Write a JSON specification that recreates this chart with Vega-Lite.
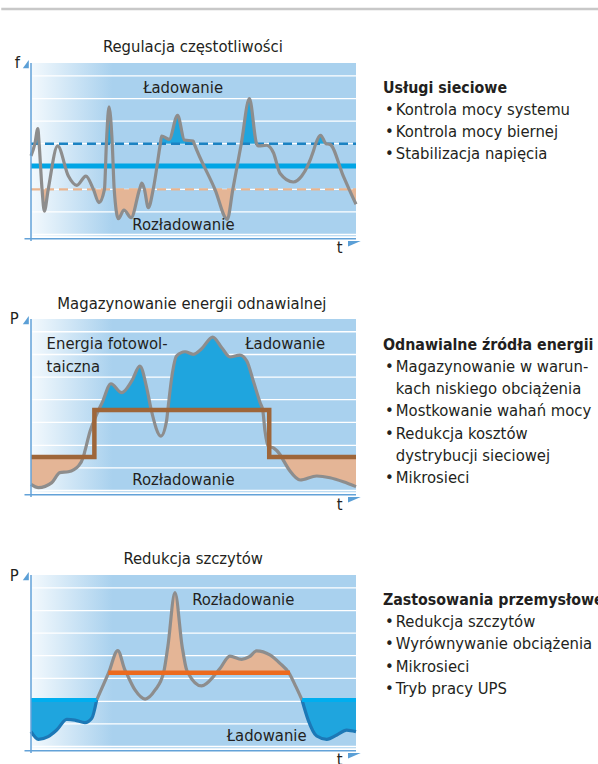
{
  "$schema": "https://vega.github.io/schema/vega-lite/v6.json",
  "background": "white",
  "padding": {"left": 0, "top": 7, "right": 0, "bottom": 0},
  "bounds": "flush",
  "columns": 2,
  "spacing": {"row": 81, "column": 28},
  "config": {
    "view": {"stroke": null},
    "axis": {"disable": true},
    "legend": {"disable": true},
    "text": {"font": "DejaVu Sans Condensed, Roboto, sans-serif", "fontSize": 16.5, "color": "#231f20"}
  },
  "datasets": {
    "grid": [{"g": 2}, {"g": 14.9}, {"g": 27.8}, {"g": 40.9}, {"g": 53.9}, {"g": 66.8}, {"g": 79.7}, {"g": 92.7}],
    "c1": [
      {"x": 0, "v": 46.9}, {"x": 1.2, "v": 53.9}, {"x": 2.1, "v": 62.5}, {"x": 2.5, "v": 53.9}, {"x": 3.4, "v": 27.8},
      {"x": 4.1, "v": 15.4}, {"x": 5.3, "v": 27.8}, {"x": 8.2, "v": 52.6}, {"x": 11.5, "v": 35.4}, {"x": 14.1, "v": 30.1},
      {"x": 16.9, "v": 35.4}, {"x": 19.2, "v": 27.8}, {"x": 20.9, "v": 20.2}, {"x": 22.6, "v": 27.8}, {"x": 23.2, "v": 53.9},
      {"x": 24.0, "v": 75.0}, {"x": 25.0, "v": 53.9}, {"x": 25.6, "v": 27.8}, {"x": 26.9, "v": 11.0}, {"x": 28.6, "v": 16.0},
      {"x": 30.8, "v": 11.6}, {"x": 33.4, "v": 27.8}, {"x": 34.1, "v": 31.3}, {"x": 34.9, "v": 27.8}, {"x": 36.1, "v": 17.3},
      {"x": 37.6, "v": 27.8}, {"x": 39.8, "v": 53.9}, {"x": 40.2, "v": 58.3}, {"x": 42.5, "v": 56.4}, {"x": 45.1, "v": 70.1},
      {"x": 47.2, "v": 56.0}, {"x": 49.9, "v": 55.4}, {"x": 50.2, "v": 53.9}, {"x": 56.6, "v": 27.8}, {"x": 60.4, "v": 10.7},
      {"x": 62.1, "v": 27.8}, {"x": 64.7, "v": 53.9}, {"x": 67.2, "v": 79.6}, {"x": 69.4, "v": 53.9}, {"x": 69.9, "v": 52.6},
      {"x": 72.5, "v": 53.0}, {"x": 74.6, "v": 48.7}, {"x": 76.6, "v": 37.0}, {"x": 80.7, "v": 32.0}, {"x": 83.3, "v": 35.4},
      {"x": 86.9, "v": 49.7}, {"x": 87.6, "v": 53.9}, {"x": 89.1, "v": 58.7}, {"x": 90.8, "v": 53.9}, {"x": 92.0, "v": 53.5},
      {"x": 96.1, "v": 35.4}, {"x": 97.9, "v": 27.8}, {"x": 100, "v": 19.3}
    ],
    "f1": [
      {"s": "a", "k": "c", "x": 1.2, "v": 53.9}, {"s": "a", "k": "c", "x": 2.1, "v": 62.5}, {"s": "a", "k": "c", "x": 2.5, "v": 53.9},
      {"s": "b", "k": "c", "x": 23.2, "v": 53.9}, {"s": "b", "k": "c", "x": 24.0, "v": 75.0}, {"s": "b", "k": "c", "x": 25.0, "v": 53.9},
      {"s": "c", "k": "c", "x": 39.8, "v": 53.9}, {"s": "c", "k": "c", "x": 40.2, "v": 58.3}, {"s": "c", "k": "c", "x": 42.5, "v": 56.4},
      {"s": "c", "k": "c", "x": 45.1, "v": 70.1}, {"s": "c", "k": "c", "x": 47.2, "v": 56.0}, {"s": "c", "k": "c", "x": 49.9, "v": 55.4},
      {"s": "c", "k": "c", "x": 50.2, "v": 53.9},
      {"s": "d", "k": "c", "x": 64.7, "v": 53.9}, {"s": "d", "k": "c", "x": 67.2, "v": 79.6}, {"s": "d", "k": "c", "x": 69.4, "v": 53.9},
      {"s": "e", "k": "c", "x": 87.6, "v": 53.9}, {"s": "e", "k": "c", "x": 89.1, "v": 58.7}, {"s": "e", "k": "c", "x": 90.8, "v": 53.9},
      {"s": "f", "k": "d", "x": 3.4, "v": 27.8}, {"s": "f", "k": "d", "x": 4.1, "v": 15.4}, {"s": "f", "k": "d", "x": 5.3, "v": 27.8},
      {"s": "g", "k": "d", "x": 19.2, "v": 27.8}, {"s": "g", "k": "d", "x": 20.9, "v": 20.2}, {"s": "g", "k": "d", "x": 22.6, "v": 27.8},
      {"s": "h", "k": "d", "x": 25.6, "v": 27.8}, {"s": "h", "k": "d", "x": 26.9, "v": 11.0}, {"s": "h", "k": "d", "x": 28.6, "v": 16.0},
      {"s": "h", "k": "d", "x": 30.8, "v": 11.6}, {"s": "h", "k": "d", "x": 33.4, "v": 27.8},
      {"s": "i", "k": "d", "x": 34.9, "v": 27.8}, {"s": "i", "k": "d", "x": 36.1, "v": 17.3}, {"s": "i", "k": "d", "x": 37.6, "v": 27.8},
      {"s": "j", "k": "d", "x": 56.6, "v": 27.8}, {"s": "j", "k": "d", "x": 60.4, "v": 10.7}, {"s": "j", "k": "d", "x": 62.1, "v": 27.8},
      {"s": "m", "k": "d", "x": 97.9, "v": 27.8}, {"s": "m", "k": "d", "x": 100, "v": 19.3}
    ],
    "c2": [
      {"x": 0, "v": 5.5}, {"x": 2.3, "v": 3.6}, {"x": 6.4, "v": 6.5}, {"x": 8.9, "v": 12.2}, {"x": 11.5, "v": 12.7},
      {"x": 14.6, "v": 16.0}, {"x": 16.1, "v": 21.1}, {"x": 16.6, "v": 24.6}, {"x": 18.2, "v": 36.0}, {"x": 20.2, "v": 45.5},
      {"x": 20.8, "v": 48.0}, {"x": 21.9, "v": 52.2}, {"x": 24.6, "v": 63.0}, {"x": 27.9, "v": 57.9}, {"x": 31.0, "v": 64.6},
      {"x": 33.5, "v": 73.1}, {"x": 35.6, "v": 60.7}, {"x": 37.0, "v": 48.0}, {"x": 40.0, "v": 33.1}, {"x": 41.7, "v": 41.7},
      {"x": 42.1, "v": 48.0}, {"x": 43.3, "v": 66.5}, {"x": 44.8, "v": 78.9}, {"x": 47.4, "v": 81.3}, {"x": 49.9, "v": 79.8},
      {"x": 52.5, "v": 83.0}, {"x": 55.9, "v": 89.7}, {"x": 58.7, "v": 83.6}, {"x": 61.2, "v": 78.3}, {"x": 64.3, "v": 79.4},
      {"x": 66.4, "v": 76.0}, {"x": 68.4, "v": 64.6}, {"x": 70.5, "v": 52.2}, {"x": 71.3, "v": 48.0}, {"x": 72.0, "v": 36.0},
      {"x": 73.0, "v": 27.4}, {"x": 74.8, "v": 26.1}, {"x": 76.6, "v": 22.7}, {"x": 77.1, "v": 21.1}, {"x": 79.7, "v": 13.1},
      {"x": 82.8, "v": 8.0}, {"x": 87.9, "v": 10.3}, {"x": 92.0, "v": 9.3}, {"x": 96.1, "v": 7.0}, {"x": 100, "v": 4.2}
    ],
    "f2": [
      {"s": "a", "k": "c", "x": 20.8, "v": 48.0}, {"s": "a", "k": "c", "x": 21.9, "v": 52.2}, {"s": "a", "k": "c", "x": 24.6, "v": 63.0},
      {"s": "a", "k": "c", "x": 27.9, "v": 57.9}, {"s": "a", "k": "c", "x": 31.0, "v": 64.6}, {"s": "a", "k": "c", "x": 33.5, "v": 73.1},
      {"s": "a", "k": "c", "x": 35.6, "v": 60.7}, {"s": "a", "k": "c", "x": 37.0, "v": 48.0},
      {"s": "b", "k": "c", "x": 42.1, "v": 48.0}, {"s": "b", "k": "c", "x": 43.3, "v": 66.5}, {"s": "b", "k": "c", "x": 44.8, "v": 78.9},
      {"s": "b", "k": "c", "x": 47.4, "v": 81.3}, {"s": "b", "k": "c", "x": 49.9, "v": 79.8}, {"s": "b", "k": "c", "x": 52.5, "v": 83.0},
      {"s": "b", "k": "c", "x": 55.9, "v": 89.7}, {"s": "b", "k": "c", "x": 58.7, "v": 83.6}, {"s": "b", "k": "c", "x": 61.2, "v": 78.3},
      {"s": "b", "k": "c", "x": 64.3, "v": 79.4}, {"s": "b", "k": "c", "x": 66.4, "v": 76.0}, {"s": "b", "k": "c", "x": 68.4, "v": 64.6},
      {"s": "b", "k": "c", "x": 70.5, "v": 52.2}, {"s": "b", "k": "c", "x": 71.3, "v": 48.0},
      {"s": "c", "k": "d", "x": 0, "v": 5.5}, {"s": "c", "k": "d", "x": 2.3, "v": 3.6}, {"s": "c", "k": "d", "x": 6.4, "v": 6.5},
      {"s": "c", "k": "d", "x": 8.9, "v": 12.2}, {"s": "c", "k": "d", "x": 11.5, "v": 12.7}, {"s": "c", "k": "d", "x": 14.6, "v": 16.0},
      {"s": "c", "k": "d", "x": 16.1, "v": 21.1},
      {"s": "d", "k": "d", "x": 77.1, "v": 21.1}, {"s": "d", "k": "d", "x": 79.7, "v": 13.1}, {"s": "d", "k": "d", "x": 82.8, "v": 8.0},
      {"s": "d", "k": "d", "x": 87.9, "v": 10.3}, {"s": "d", "k": "d", "x": 92.0, "v": 9.3}, {"s": "d", "k": "d", "x": 96.1, "v": 7.0},
      {"s": "d", "k": "d", "x": 100, "v": 4.2}
    ],
    "step2": [{"x": 0, "v": 21.1}, {"x": 19.5, "v": 48.0}, {"x": 73.3, "v": 21.1}, {"x": 100, "v": 21.1}],
    "c3": [
      {"s": "L", "x": 0, "v": 10.5}, {"s": "L", "x": 2.3, "v": 6.1}, {"s": "L", "x": 5.3, "v": 7.6}, {"s": "L", "x": 7.9, "v": 11.4},
      {"s": "L", "x": 11.0, "v": 17.5}, {"s": "L", "x": 13.5, "v": 17.1}, {"s": "L", "x": 16.6, "v": 15.6}, {"s": "L", "x": 18.7, "v": 18.1},
      {"s": "L", "x": 20.2, "v": 28.6},
      {"s": "M", "x": 20.2, "v": 28.6}, {"s": "M", "x": 23.9, "v": 44.2}, {"s": "M", "x": 26.7, "v": 56.8}, {"s": "M", "x": 28.9, "v": 45.7},
      {"s": "M", "x": 29.3, "v": 44.2}, {"s": "M", "x": 32.0, "v": 34.3}, {"s": "M", "x": 35.1, "v": 29.1}, {"s": "M", "x": 38.2, "v": 34.3},
      {"s": "M", "x": 40.8, "v": 44.2}, {"s": "M", "x": 42.1, "v": 59.0}, {"s": "M", "x": 44.3, "v": 89.9}, {"s": "M", "x": 46.5, "v": 59.2},
      {"s": "M", "x": 47.9, "v": 45.7}, {"s": "M", "x": 48.3, "v": 44.2}, {"s": "M", "x": 52.5, "v": 36.6}, {"s": "M", "x": 56.1, "v": 41.9},
      {"s": "M", "x": 57.1, "v": 44.2}, {"s": "M", "x": 58.2, "v": 46.7}, {"s": "M", "x": 61.2, "v": 53.7}, {"s": "M", "x": 64.8, "v": 51.8},
      {"s": "M", "x": 67.2, "v": 53.3}, {"s": "M", "x": 69.4, "v": 56.6}, {"s": "M", "x": 73.5, "v": 54.3}, {"s": "M", "x": 76.6, "v": 49.5},
      {"s": "M", "x": 79.3, "v": 44.2}, {"s": "M", "x": 81.5, "v": 36.2}, {"s": "M", "x": 83.4, "v": 28.6},
      {"s": "R", "x": 83.4, "v": 28.6}, {"s": "R", "x": 85.3, "v": 17.1}, {"s": "R", "x": 87.9, "v": 8.0}, {"s": "R", "x": 91.0, "v": 6.1},
      {"s": "R", "x": 94.1, "v": 8.6}, {"s": "R", "x": 97.1, "v": 11.4}, {"s": "R", "x": 100, "v": 10.5}
    ],
    "f3": [
      {"s": "a", "x": 23.9, "v": 44.2}, {"s": "a", "x": 26.7, "v": 56.8}, {"s": "a", "x": 28.9, "v": 45.7}, {"s": "a", "x": 29.3, "v": 44.2},
      {"s": "b", "x": 40.8, "v": 44.2}, {"s": "b", "x": 42.1, "v": 59.0}, {"s": "b", "x": 44.3, "v": 89.9}, {"s": "b", "x": 46.5, "v": 59.2},
      {"s": "b", "x": 47.9, "v": 45.7}, {"s": "b", "x": 48.3, "v": 44.2},
      {"s": "c", "x": 57.1, "v": 44.2}, {"s": "c", "x": 58.2, "v": 46.7}, {"s": "c", "x": 61.2, "v": 53.7}, {"s": "c", "x": 64.8, "v": 51.8},
      {"s": "c", "x": 67.2, "v": 53.3}, {"s": "c", "x": 69.4, "v": 56.6}, {"s": "c", "x": 73.5, "v": 54.3}, {"s": "c", "x": 76.6, "v": 49.5},
      {"s": "c", "x": 79.3, "v": 44.2}
    ],
    "lv3": [{"x": 0, "x2": 20.2}, {"x": 83.4, "x2": 100}],
    "lab1": [
      {"x": 49.8, "y": 106.3, "t": "Regulacja częstotliwości"},
      {"x": 46.8, "y": 83.0, "t": "Ładowanie"},
      {"x": 46.9, "y": 4.4, "t": "Rozładowanie"},
      {"x": -4.2, "y": 97.3, "t": "f"},
      {"x": 95.0, "y": -8.6, "t": "t"}
    ],
    "lab2": [
      {"x": 49.5, "y": 105.9, "t": "Magazynowanie energii odnawialnej"},
      {"x": 78.2, "y": 82.7, "t": "Ładowanie"},
      {"x": 46.9, "y": 5.1, "t": "Rozładowanie"},
      {"x": -5.2, "y": 97.0, "t": "P"},
      {"x": 95.0, "y": -9.1, "t": "t"}
    ],
    "lab2l": [
      {"x": 4.8, "y": 82.7, "t": "Energia fotowol-"},
      {"x": 4.8, "y": 69.9, "t": "taiczna"}
    ],
    "lab3": [
      {"x": 49.9, "y": 106.1, "t": "Redukcja szczytów"},
      {"x": 65.3, "y": 82.9, "t": "Rozładowanie"},
      {"x": 72.5, "y": 5.3, "t": "Ładowanie"},
      {"x": -5.2, "y": 96.7, "t": "P"},
      {"x": 95.0, "y": -8.6, "t": "t"}
    ],
    "list1": [
      {"n": 0, "k": "h", "t": "Usługi sieciowe"},
      {"n": 1, "k": "b", "t": "Kontrola mocy systemu"},
      {"n": 2, "k": "b", "t": "Kontrola mocy biernej"},
      {"n": 3, "k": "b", "t": "Stabilizacja napięcia"}
    ],
    "list2": [
      {"n": 0, "k": "h", "t": "Odnawialne źródła energii"},
      {"n": 1, "k": "b", "t": "Magazynowanie w warun-"},
      {"n": 2, "k": "c", "t": "kach niskiego obciążenia"},
      {"n": 3, "k": "b", "t": "Mostkowanie wahań mocy"},
      {"n": 4, "k": "b", "t": "Redukcja kosztów"},
      {"n": 5, "k": "c", "t": "dystrybucji sieciowej"},
      {"n": 6, "k": "b", "t": "Mikrosieci"}
    ],
    "list3": [
      {"n": 0, "k": "h", "t": "Zastosowania przemysłowe"},
      {"n": 1, "k": "b", "t": "Redukcja szczytów"},
      {"n": 2, "k": "b", "t": "Wyrównywanie obciążenia"},
      {"n": 3, "k": "b", "t": "Mikrosieci"},
      {"n": 4, "k": "b", "t": "Tryb pracy UPS"}
    ]
  },
  "concat": [
    {
      "width": 325,
      "height": 175,
      "layer": [
        {"data": {"values": [{}]}, "mark": {"type": "rect", "fill": {"gradient": "linear", "x1": 0, "y1": 0, "x2": 1, "y2": 0, "stops": [{"offset": 0, "color": "#f3f9fd"}, {"offset": 0.25, "color": "#a9d1ee"}, {"offset": 1, "color": "#a9d1ee"}]}},
         "encoding": {"x": {"datum": 0, "type": "quantitative", "scale": {"domain": [0, 100], "nice": false}}, "x2": {"datum": 100}, "y": {"datum": 1, "type": "quantitative", "scale": {"domain": [0, 100], "nice": false}}, "y2": {"datum": 100}}},
        {"data": {"name": "grid"}, "mark": {"type": "rule", "color": "#ffffff", "strokeWidth": 1.3}, "encoding": {"y": {"field": "g", "type": "quantitative"}, "x": {"datum": 0.4}, "x2": {"datum": 100}}},
        {"data": {"name": "f1"}, "transform": [{"filter": "datum.k == 'c'"}], "mark": {"type": "area", "interpolate": "monotone", "color": "#1fa5de", "opacity": 1},
         "encoding": {"x": {"field": "x", "type": "quantitative"}, "y": {"field": "v", "type": "quantitative", "stack": null}, "y2": {"datum": 53.9}, "detail": {"field": "s"}}},
        {"data": {"name": "f1"}, "transform": [{"filter": "datum.k == 'd'"}], "mark": {"type": "area", "interpolate": "monotone", "color": "#e4b596", "opacity": 1},
         "encoding": {"x": {"field": "x", "type": "quantitative"}, "y": {"field": "v", "type": "quantitative", "stack": null}, "y2": {"datum": 27.8}, "detail": {"field": "s"}}},
        {"data": {"values": [{}]}, "mark": {"type": "rule", "color": "#1b82c2", "strokeWidth": 2.4, "strokeDash": [9, 5]}, "encoding": {"y": {"datum": 53.9}, "x": {"datum": 0}, "x2": {"datum": 100}}},
        {"data": {"values": [{}]}, "mark": {"type": "rule", "color": "#00a5e5", "strokeWidth": 5}, "encoding": {"y": {"datum": 41.1}, "x": {"datum": 0}, "x2": {"datum": 100}}},
        {"data": {"values": [{}]}, "mark": {"type": "rule", "color": "#e9b590", "strokeWidth": 2.4, "strokeDash": [9, 5]}, "encoding": {"y": {"datum": 27.8}, "x": {"datum": 0}, "x2": {"datum": 100}}},
        {"data": {"name": "c1"}, "mark": {"type": "line", "interpolate": "monotone", "color": "#8d8d8d", "strokeWidth": 3.2}, "encoding": {"x": {"field": "x", "type": "quantitative"}, "y": {"field": "v", "type": "quantitative"}}},
        {"data": {"values": [{}]}, "mark": {"type": "rule", "color": "#63a2d8", "strokeWidth": 1.5}, "encoding": {"x": {"datum": 0}, "y": {"datum": -1.7}, "y2": {"datum": 100}}},
        {"data": {"values": [{}]}, "mark": {"type": "rule", "color": "#63a2d8", "strokeWidth": 1.5}, "encoding": {"y": {"datum": -0.4}, "x": {"datum": -2}, "x2": {"datum": 100}}},
        {"data": {"values": [{}]}, "mark": {"type": "point", "shape": "M-0.72,1L0.72,1L0.72,-1Z", "size": 69, "filled": true, "color": "#5b9fd6", "opacity": 1}, "encoding": {"x": {"datum": -1.6}, "y": {"datum": 99.4}}},
        {"data": {"values": [{}]}, "mark": {"type": "point", "shape": "M-1,-0.42L1,-0.42L-1,0.42Z", "size": 161, "filled": true, "color": "#5b9fd6", "opacity": 1}, "encoding": {"x": {"datum": 99.5}, "y": {"datum": -3.3}}},
        {"data": {"values": [{}]}, "mark": {"type": "rule", "color": "#c8c8c8", "strokeWidth": 2.5}, "encoding": {"x": {"datum": -9.15}, "x2": {"datum": 174.5}, "y": {"datum": 130.86}}},
        {"data": {"name": "lab1"}, "mark": {"type": "text", "align": "center", "baseline": "alphabetic"}, "encoding": {"x": {"field": "x", "type": "quantitative"}, "y": {"field": "y", "type": "quantitative"}, "text": {"field": "t"}}}
      ]
    },
    {
      "width": 214,
      "height": 175,
      "data": {"name": "list1"},
      "layer": [
        {"transform": [{"filter": "datum.k == 'h'"}], "mark": {"type": "text", "align": "left", "baseline": "alphabetic", "fontWeight": "bold", "fontSize": 15.8},
         "encoding": {"x": {"datum": -0.5, "type": "quantitative", "scale": {"domain": [0, 100], "nice": false}}, "y": {"field": "n", "type": "quantitative", "scale": {"domain": [-1.35, 6.605], "nice": false, "reverse": true}}, "text": {"field": "t"}}},
        {"transform": [{"filter": "datum.k == 'b'"}], "mark": {"type": "text", "align": "left", "baseline": "alphabetic", "text": "•"},
         "encoding": {"x": {"datum": 0.47}, "y": {"field": "n", "type": "quantitative"}}},
        {"transform": [{"filter": "datum.k != 'h'"}], "mark": {"type": "text", "align": "left", "baseline": "alphabetic"},
         "encoding": {"x": {"datum": 5.5}, "y": {"field": "n", "type": "quantitative"}, "text": {"field": "t"}}}
      ]
    },
    {
      "width": 325,
      "height": 175,
      "layer": [
        {"data": {"values": [{}]}, "mark": {"type": "rect", "fill": {"gradient": "linear", "x1": 0, "y1": 0, "x2": 1, "y2": 0, "stops": [{"offset": 0, "color": "#f3f9fd"}, {"offset": 0.25, "color": "#a9d1ee"}, {"offset": 1, "color": "#a9d1ee"}]}},
         "encoding": {"x": {"datum": 0, "type": "quantitative", "scale": {"domain": [0, 100], "nice": false}}, "x2": {"datum": 100}, "y": {"datum": 1, "type": "quantitative", "scale": {"domain": [0, 100], "nice": false}}, "y2": {"datum": 100}}},
        {"data": {"name": "grid"}, "mark": {"type": "rule", "color": "#ffffff", "strokeWidth": 1.3}, "encoding": {"y": {"field": "g", "type": "quantitative"}, "x": {"datum": 0.4}, "x2": {"datum": 100}}},
        {"data": {"name": "f2"}, "transform": [{"filter": "datum.k == 'c'"}], "mark": {"type": "area", "interpolate": "monotone", "color": "#1fa5de", "opacity": 1},
         "encoding": {"x": {"field": "x", "type": "quantitative"}, "y": {"field": "v", "type": "quantitative", "stack": null}, "y2": {"datum": 48.0}, "detail": {"field": "s"}}},
        {"data": {"name": "f2"}, "transform": [{"filter": "datum.k == 'd'"}], "mark": {"type": "area", "interpolate": "monotone", "color": "#e4b596", "opacity": 1},
         "encoding": {"x": {"field": "x", "type": "quantitative"}, "y": {"field": "v", "type": "quantitative", "stack": null}, "y2": {"datum": 21.1}, "detail": {"field": "s"}}},
        {"data": {"name": "c2"}, "mark": {"type": "line", "interpolate": "monotone", "color": "#8d8d8d", "strokeWidth": 3.2}, "encoding": {"x": {"field": "x", "type": "quantitative"}, "y": {"field": "v", "type": "quantitative"}}},
        {"data": {"name": "step2"}, "mark": {"type": "line", "interpolate": "step-after", "color": "#9e663a", "strokeWidth": 4.5, "strokeJoin": "miter"}, "encoding": {"x": {"field": "x", "type": "quantitative"}, "y": {"field": "v", "type": "quantitative"}}},
        {"data": {"values": [{}]}, "mark": {"type": "rule", "color": "#63a2d8", "strokeWidth": 1.5}, "encoding": {"x": {"datum": 0}, "y": {"datum": -1.7}, "y2": {"datum": 100}}},
        {"data": {"values": [{}]}, "mark": {"type": "rule", "color": "#63a2d8", "strokeWidth": 1.5}, "encoding": {"y": {"datum": -0.4}, "x": {"datum": -2}, "x2": {"datum": 100}}},
        {"data": {"values": [{}]}, "mark": {"type": "point", "shape": "M-0.72,1L0.72,1L0.72,-1Z", "size": 69, "filled": true, "color": "#5b9fd6", "opacity": 1}, "encoding": {"x": {"datum": -1.6}, "y": {"datum": 99.4}}},
        {"data": {"values": [{}]}, "mark": {"type": "point", "shape": "M-1,-0.42L1,-0.42L-1,0.42Z", "size": 161, "filled": true, "color": "#5b9fd6", "opacity": 1}, "encoding": {"x": {"datum": 99.5}, "y": {"datum": -3.3}}},
        {"data": {"name": "lab2"}, "mark": {"type": "text", "align": "center", "baseline": "alphabetic"}, "encoding": {"x": {"field": "x", "type": "quantitative"}, "y": {"field": "y", "type": "quantitative"}, "text": {"field": "t"}}},
        {"data": {"name": "lab2l"}, "mark": {"type": "text", "align": "left", "baseline": "alphabetic"}, "encoding": {"x": {"field": "x", "type": "quantitative"}, "y": {"field": "y", "type": "quantitative"}, "text": {"field": "t"}}}
      ]
    },
    {
      "width": 214,
      "height": 175,
      "data": {"name": "list2"},
      "layer": [
        {"transform": [{"filter": "datum.k == 'h'"}], "mark": {"type": "text", "align": "left", "baseline": "alphabetic", "fontWeight": "bold", "fontSize": 15.8},
         "encoding": {"x": {"datum": -0.5, "type": "quantitative", "scale": {"domain": [0, 100], "nice": false}}, "y": {"field": "n", "type": "quantitative", "scale": {"domain": [-1.42, 6.517], "nice": false, "reverse": true}}, "text": {"field": "t"}}},
        {"transform": [{"filter": "datum.k == 'b'"}], "mark": {"type": "text", "align": "left", "baseline": "alphabetic", "text": "•"},
         "encoding": {"x": {"datum": 0.47}, "y": {"field": "n", "type": "quantitative"}}},
        {"transform": [{"filter": "datum.k != 'h'"}], "mark": {"type": "text", "align": "left", "baseline": "alphabetic"},
         "encoding": {"x": {"datum": 5.5}, "y": {"field": "n", "type": "quantitative"}, "text": {"field": "t"}}}
      ]
    },
    {
      "width": 325,
      "height": 175,
      "layer": [
        {"data": {"values": [{}]}, "mark": {"type": "rect", "fill": {"gradient": "linear", "x1": 0, "y1": 0, "x2": 1, "y2": 0, "stops": [{"offset": 0, "color": "#f3f9fd"}, {"offset": 0.25, "color": "#a9d1ee"}, {"offset": 1, "color": "#a9d1ee"}]}},
         "encoding": {"x": {"datum": 0, "type": "quantitative", "scale": {"domain": [0, 100], "nice": false}}, "x2": {"datum": 100}, "y": {"datum": 1, "type": "quantitative", "scale": {"domain": [0, 100], "nice": false}}, "y2": {"datum": 100}}},
        {"data": {"name": "grid"}, "mark": {"type": "rule", "color": "#ffffff", "strokeWidth": 1.3}, "encoding": {"y": {"field": "g", "type": "quantitative"}, "x": {"datum": 0.4}, "x2": {"datum": 100}}},
        {"data": {"name": "f3"}, "mark": {"type": "area", "interpolate": "monotone", "color": "#e4b596", "opacity": 1},
         "encoding": {"x": {"field": "x", "type": "quantitative"}, "y": {"field": "v", "type": "quantitative", "stack": null}, "y2": {"datum": 44.2}, "detail": {"field": "s"}}},
        {"data": {"name": "c3"}, "transform": [{"filter": "datum.s != 'M'"}], "mark": {"type": "area", "interpolate": "monotone", "color": "#1fa5de", "opacity": 1},
         "encoding": {"x": {"field": "x", "type": "quantitative"}, "y": {"field": "v", "type": "quantitative", "stack": null}, "y2": {"datum": 28.6}, "detail": {"field": "s"}}},
        {"data": {"name": "c3"}, "transform": [{"filter": "datum.s == 'M'"}], "mark": {"type": "line", "interpolate": "monotone", "color": "#8d8d8d", "strokeWidth": 3.2}, "encoding": {"x": {"field": "x", "type": "quantitative"}, "y": {"field": "v", "type": "quantitative"}}},
        {"data": {"name": "c3"}, "transform": [{"filter": "datum.s != 'M'"}], "mark": {"type": "line", "interpolate": "monotone", "color": "#1c78b6", "strokeWidth": 3.2}, "encoding": {"x": {"field": "x", "type": "quantitative"}, "y": {"field": "v", "type": "quantitative"}, "detail": {"field": "s"}}},
        {"data": {"values": [{}]}, "mark": {"type": "rule", "color": "#ec6a1e", "strokeWidth": 4.5}, "encoding": {"y": {"datum": 44.2}, "x": {"datum": 23.8}, "x2": {"datum": 79.7}}},
        {"data": {"name": "lv3"}, "mark": {"type": "rule", "color": "#00aeef", "strokeWidth": 4}, "encoding": {"y": {"datum": 28.6}, "x": {"field": "x", "type": "quantitative"}, "x2": {"field": "x2"}}},
        {"data": {"values": [{}]}, "mark": {"type": "rule", "color": "#63a2d8", "strokeWidth": 1.5}, "encoding": {"x": {"datum": 0}, "y": {"datum": -1.7}, "y2": {"datum": 100}}},
        {"data": {"values": [{}]}, "mark": {"type": "rule", "color": "#63a2d8", "strokeWidth": 1.5}, "encoding": {"y": {"datum": -0.4}, "x": {"datum": -2}, "x2": {"datum": 100}}},
        {"data": {"values": [{}]}, "mark": {"type": "point", "shape": "M-0.72,1L0.72,1L0.72,-1Z", "size": 69, "filled": true, "color": "#5b9fd6", "opacity": 1}, "encoding": {"x": {"datum": -1.6}, "y": {"datum": 99.4}}},
        {"data": {"values": [{}]}, "mark": {"type": "point", "shape": "M-1,-0.42L1,-0.42L-1,0.42Z", "size": 161, "filled": true, "color": "#5b9fd6", "opacity": 1}, "encoding": {"x": {"datum": 99.5}, "y": {"datum": -3.3}}},
        {"data": {"name": "lab3"}, "mark": {"type": "text", "align": "center", "baseline": "alphabetic"}, "encoding": {"x": {"field": "x", "type": "quantitative"}, "y": {"field": "y", "type": "quantitative"}, "text": {"field": "t"}}}
      ]
    },
    {
      "width": 214,
      "height": 175,
      "data": {"name": "list3"},
      "layer": [
        {"transform": [{"filter": "datum.k == 'h'"}], "mark": {"type": "text", "align": "left", "baseline": "alphabetic", "fontWeight": "bold", "fontSize": 15.8},
         "encoding": {"x": {"datum": -0.5, "type": "quantitative", "scale": {"domain": [0, 100], "nice": false}}, "y": {"field": "n", "type": "quantitative", "scale": {"domain": [-1.351, 6.532], "nice": false, "reverse": true}}, "text": {"field": "t"}}},
        {"transform": [{"filter": "datum.k == 'b'"}], "mark": {"type": "text", "align": "left", "baseline": "alphabetic", "text": "•"},
         "encoding": {"x": {"datum": 0.47}, "y": {"field": "n", "type": "quantitative"}}},
        {"transform": [{"filter": "datum.k != 'h'"}], "mark": {"type": "text", "align": "left", "baseline": "alphabetic"},
         "encoding": {"x": {"datum": 5.5}, "y": {"field": "n", "type": "quantitative"}, "text": {"field": "t"}}}
      ]
    }
  ]
}
